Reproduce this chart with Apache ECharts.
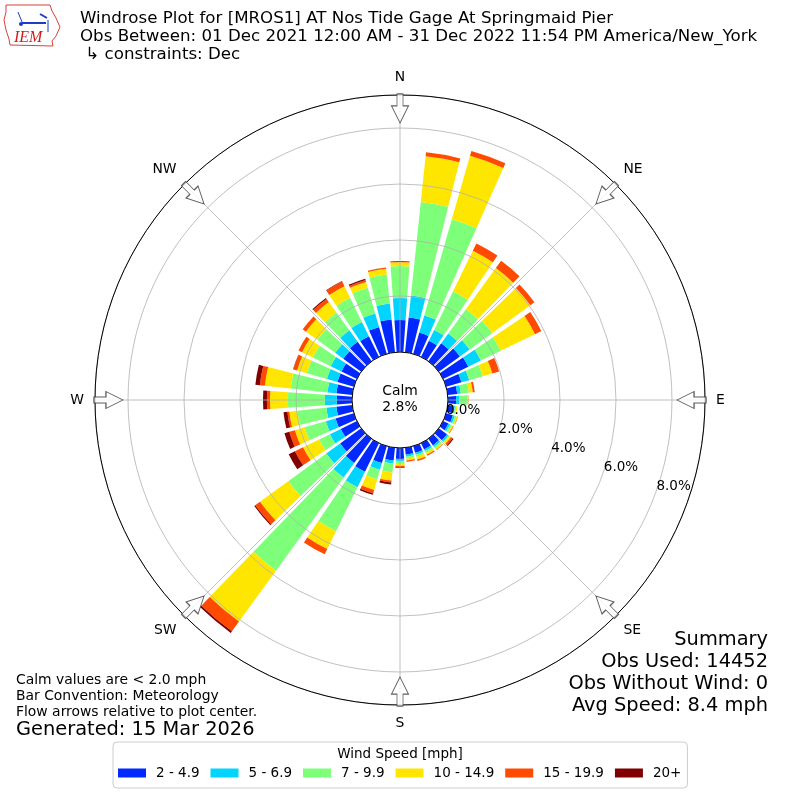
<!DOCTYPE html>
<html>
<head>
<meta charset="utf-8">
<script src="https://cdn.jsdelivr.net/npm/echarts@6/dist/echarts.min.js"></script>
<style>
  html, body { margin: 0; padding: 0; background: #fff; }
  #main { width: 800px; height: 800px; }
</style>
</head>
<body>
<div id="main"></div>
<script>
// direction bins (degrees, meteorological: wind from)
var directions = [0, 10, 20, 30, 40, 50, 60, 70, 80, 90, 100, 110, 120, 130, 140, 150, 160, 170,
                  180, 190, 200, 210, 220, 230, 240, 250, 260, 270, 280, 290, 300, 310, 320, 330, 340, 350];
var speedBins = ['2 - 4.9', '5 - 6.9', '7 - 9.9', '10 - 14.9', '15 - 19.9', '20+'];

// percent of observations per direction and speed bin
var spd2to5 = [1.14, 1.25, 0.79, 0.64, 0.79, 0.93, 1.00, 0.57, 0.34, 0.29, 0.21, 0.25, 0.21, 0.36, 0.29, 0.25, 0.25, 0.25,
               0.39, 0.46, 0.63, 1.14, 1.07, 0.93, 0.64, 0.68, 0.57, 0.54, 0.57, 0.61, 0.61, 0.79, 0.86, 0.82, 1.00, 1.18];
var spd5to7 = [0.79, 0.79, 0.64, 0.43, 0.43, 0.43, 0.50, 0.29, 0.13, 0.11, 0.05, 0.07, 0.07, 0.07, 0.07, 0.07, 0.07, 0.07,
               0.07, 0.11, 0.25, 0.61, 0.64, 0.61, 0.43, 0.36, 0.36, 0.43, 0.32, 0.39, 0.43, 0.36, 0.50, 0.57, 0.50, 0.57];
var spd7to10 = [1.14, 3.36, 3.57, 1.54, 1.07, 1.00, 0.79, 0.50, 0.29, 0.29, 0.05, 0.07, 0.07, 0.04, 0.07, 0.07, 0.07, 0.07,
                0.11, 0.32, 0.36, 1.75, 4.11, 1.68, 0.43, 0.79, 1.04, 1.32, 1.32, 0.75, 0.71, 0.79, 0.79, 0.96, 0.96, 1.04];
var spd10to15 = [0.14, 1.64, 2.36, 1.61, 1.82, 1.68, 1.36, 0.36, 0.14, 0.04, 0.04, 0.04, 0.05, 0.07, 0.05, 0.07, 0.11, 0.07,
                 0.07, 0.29, 0.39, 0.71, 2.25, 1.25, 0.64, 0.36, 0.29, 0.64, 0.93, 0.36, 0.43, 0.50, 0.46, 0.46, 0.21, 0.21];
var spd15to20 = [0.04, 0.14, 0.18, 0.29, 0.32, 0.18, 0.25, 0.25, 0.07, 0.01, 0.00, 0.01, 0.02, 0.07, 0.02, 0.04, 0.05, 0.04,
                 0.05, 0.07, 0.13, 0.21, 0.43, 0.21, 0.32, 0.21, 0.07, 0.11, 0.18, 0.14, 0.14, 0.14, 0.14, 0.18, 0.07, 0.04];
var spd20plus = [0.00, 0.00, 0.00, 0.00, 0.00, 0.00, 0.00, 0.00, 0.00, 0.00, 0.00, 0.00, 0.00, 0.04, 0.00, 0.00, 0.00, 0.00,
                 0.02, 0.07, 0.05, 0.00, 0.07, 0.04, 0.25, 0.18, 0.14, 0.14, 0.16, 0.01, 0.00, 0.00, 0.04, 0.02, 0.05, 0.00];

var radiusTicks = [0, 2, 4, 6, 8];
var compassNames = ['N', 'NE', 'E', 'SE', 'S', 'SW', 'W', 'NW'];
var compassAngles = [0, 45, 90, 135, 180, 225, 270, 315];
var calmPct = 2.8;

var binColors = ['#0028ff', '#00d4ff', '#7dff7a', '#ffe600', '#ff4a00', '#800000'];
var binData = [spd2to5, spd5to7, spd7to10, spd10to15, spd15to20, spd20plus];

var RMAX = 9.18;
var FONT = 'DejaVu Sans';
var arrowPath = 'path://M8.5,0 L17,17 L11.5,17 L11.5,29 L5.5,29 L5.5,17 L0,17 Z';

var myChart = echarts.init(document.getElementById('main'));

var series = binData.map(function (vals, i) {
    return {
        name: speedBins[i],
        type: 'bar',
        coordinateSystem: 'polar',
        polarIndex: 0,
        stack: 'wind',
        barCategoryGap: '20%',
        itemStyle: { color: binColors[i] },
        z: 1,
        silent: true,
        data: vals
    };
});

// flow arrows on the rim
series.push({
    type: 'scatter',
    coordinateSystem: 'polar',
    polarIndex: 1,
    symbol: arrowPath,
    symbolSize: [17, 29],
    itemStyle: { color: '#ffffff', borderColor: '#333333', borderWidth: 1 },
    z: 10,
    silent: true,
    data: compassAngles.map(function (a) {
        return { value: [8.70, a], symbolRotate: 180 - a };
    })
});

var option = {
    animation: false,
    backgroundColor: '#ffffff',
    textStyle: { fontFamily: FONT },
    title: {
        text: 'Windrose Plot for [MROS1] AT Nos Tide Gage At Springmaid Pier\n' +
              'Obs Between: 01 Dec 2021 12:00 AM - 31 Dec 2022 11:54 PM America/New_York\n' +
              ' \u21b3 constraints: Dec',
        left: 80,
        top: 10,
        padding: 0,
        textStyle: { fontFamily: FONT, fontSize: 16.67, fontWeight: 'normal', color: '#000', lineHeight: 18 }
    },
    legend: {
        data: speedBins,
        left: 113,
        top: 742,
        padding: [24, 6, 8, 5],
        itemGap: 11,
        itemWidth: 28,
        itemHeight: 9,
        icon: 'rect',
        borderColor: '#cccccc',
        borderWidth: 1,
        borderRadius: 4,
        selectedMode: false,
        textStyle: { fontFamily: FONT, fontSize: 13.5, color: '#000', padding: [0, 0, 0, 5] }
    },
    polar: [
        { center: [400, 400], radius: [48, 305] },
        { center: [400, 400], radius: [48, 305] },
        { center: [418, 393.6], radius: [48, 305] }
    ],
    angleAxis: [
        {
            polarIndex: 0,
            type: 'category',
            data: directions,
            startAngle: 95,
            clockwise: true,
            axisLine: { show: false },
            axisTick: { show: false },
            axisLabel: { show: false },
            splitLine: { show: false }
        },
        {
            polarIndex: 1,
            type: 'value',
            min: 0,
            max: 360,
            interval: 45,
            startAngle: 90,
            clockwise: true,
            z: 4,
            axisLine: { show: true, lineStyle: { color: '#000', width: 1 } },
            axisTick: { show: false },
            splitLine: { show: true, lineStyle: { color: '#b0b0b0', width: 0.8 } },
            axisLabel: {
                margin: 11,
                align: 'center',
                verticalAlign: 'middle',
                fontFamily: FONT,
                fontSize: 13.9,
                color: '#000',
                formatter: function (v) {
                    var k = compassAngles.indexOf(v);
                    return k >= 0 ? compassNames[k] : '';
                }
            }
        },
        {
            polarIndex: 2,
            type: 'value',
            min: 0,
            max: 360,
            startAngle: -20,
            show: false
        }
    ],
    radiusAxis: [
        {
            polarIndex: 0,
            type: 'value',
            min: 0,
            max: RMAX,
            show: false
        },
        {
            polarIndex: 1,
            type: 'value',
            min: 0,
            max: RMAX,
            interval: 2,
            z: 3,
            axisLine: { show: false },
            axisTick: { show: false },
            axisLabel: { show: false },
            splitLine: { show: true, lineStyle: { color: '#b0b0b0', width: 0.8 } }
        },
        {
            polarIndex: 2,
            type: 'value',
            min: 0,
            max: RMAX,
            interval: 2,
            z: 5,
            axisLine: { show: false },
            axisTick: { show: false },
            splitLine: { show: false },
            axisLabel: {
                margin: 0,
                align: 'center',
                verticalAlign: 'middle',
                fontFamily: FONT,
                fontSize: 13.5,
                color: '#000',
                showMaxLabel: false,
                formatter: function (v) {
                    return radiusTicks.indexOf(v) >= 0 ? v.toFixed(1) + '%' : '';
                }
            }
        }
    ],
    graphic: [
        // IEM logo (rough)
        {
            type: 'polygon',
            shape: { points: [[6, 5], [50, 5], [52, 11], [56, 18], [60, 27], [56, 36], [52, 41], [53, 46], [10, 45], [9, 39], [6, 30], [4, 20], [6, 12]] },
            style: { fill: '#ffffff', stroke: '#d94040', lineWidth: 1 }
        },
        { type: 'line', shape: { x1: 22, y1: 23, x2: 46, y2: 23 }, style: { stroke: '#1e3cc8', lineWidth: 2 } },
        { type: 'line', shape: { x1: 18, y1: 12, x2: 22, y2: 22 }, style: { stroke: '#1e3cc8', lineWidth: 1 } },
        { type: 'line', shape: { x1: 40, y1: 14, x2: 47, y2: 18 }, style: { stroke: '#1e3cc8', lineWidth: 2 } },
        { type: 'line', shape: { x1: 48, y1: 20, x2: 48, y2: 32 }, style: { stroke: '#1e3cc8', lineWidth: 1 } },
        { type: 'circle', shape: { cx: 21, cy: 24, r: 2 }, style: { fill: '#1e3cc8' } },
        { type: 'text', x: 14, y: 30, style: { text: 'IEM', font: 'italic 16px "Liberation Serif"', fill: '#d01c1c' } },
        // calm in the middle
        { type: 'text', x: 400, y: 391, style: { text: 'Calm', fontFamily: FONT, fontSize: 13.9, fill: '#000', align: 'center', verticalAlign: 'middle' } },
        { type: 'text', x: 400, y: 407, style: { text: calmPct.toFixed(1) + '%', fontFamily: FONT, fontSize: 13.9, fill: '#000', align: 'center', verticalAlign: 'middle' } },
        // notes bottom left
        { type: 'text', x: 16, y: 680, style: { text: 'Calm values are < 2.0 mph', fontFamily: FONT, fontSize: 13.9, fill: '#000', verticalAlign: 'middle' } },
        { type: 'text', x: 16, y: 696, style: { text: 'Bar Convention: Meteorology', fontFamily: FONT, fontSize: 13.9, fill: '#000', verticalAlign: 'middle' } },
        { type: 'text', x: 16, y: 712, style: { text: 'Flow arrows relative to plot center.', fontFamily: FONT, fontSize: 13.9, fill: '#000', verticalAlign: 'middle' } },
        { type: 'text', x: 16, y: 730, style: { text: 'Generated: 15 Mar 2026', fontFamily: FONT, fontSize: 19.4, fill: '#000', verticalAlign: 'middle' } },
        // summary bottom right
        { type: 'text', x: 768, y: 640, style: { text: 'Summary', fontFamily: FONT, fontSize: 19.4, fill: '#000', align: 'right', verticalAlign: 'middle' } },
        { type: 'text', x: 768, y: 662, style: { text: 'Obs Used: 14452', fontFamily: FONT, fontSize: 19.4, fill: '#000', align: 'right', verticalAlign: 'middle' } },
        { type: 'text', x: 768, y: 684, style: { text: 'Obs Without Wind: 0', fontFamily: FONT, fontSize: 19.4, fill: '#000', align: 'right', verticalAlign: 'middle' } },
        { type: 'text', x: 768, y: 706, style: { text: 'Avg Speed: 8.4 mph', fontFamily: FONT, fontSize: 19.4, fill: '#000', align: 'right', verticalAlign: 'middle' } },
        // legend title
        { type: 'text', x: 400, y: 754, z: 100, style: { text: 'Wind Speed [mph]', fontFamily: FONT, fontSize: 13.5, fill: '#000', align: 'center', verticalAlign: 'middle' } }
    ],
    series: series
};

myChart.setOption(option);
</script>
</body>
</html>
